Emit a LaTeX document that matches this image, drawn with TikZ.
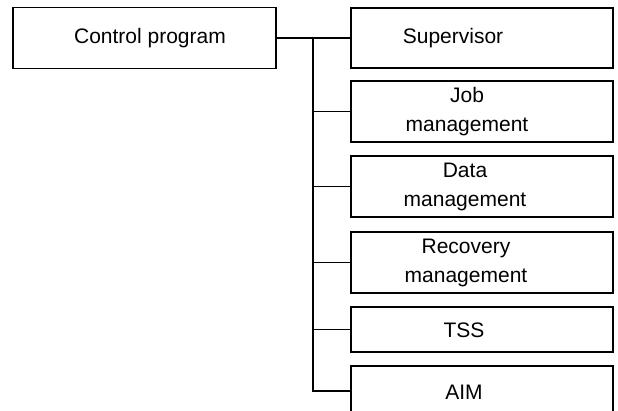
\documentclass[tikz,border=0pt]{standalone}
\usepackage{fontspec}
\setmainfont{Liberation Sans}
\begin{document}
\begin{tikzpicture}[x=1pt,y=-1pt,
  box/.style={draw, line width=1.1pt, rectangle, inner sep=0pt, minimum width=262pt},
  lbl/.style={font=\fontsize{21}{29}\selectfont, align=center, inner sep=0pt},
  wire/.style={line width=1.1pt}]
  \useasboundingbox (0,0) rectangle (618,410);
  \clip (0,0) rectangle (618,410);
  % root of the tree
  \node[box, minimum width=263pt, minimum height=61pt] (ctrl) at (144.5,38) {};
  \node[lbl] (ctrlT) at (150,38) {Control program};
  % components of the control program
  \node[box, minimum height=60pt] (sup)  at (482,38)    {};
  \node[box, minimum height=61pt] (job)  at (482,111.5) {};
  \node[box, minimum height=61pt] (data) at (482,186.5) {};
  \node[box, minimum height=61pt] (rec)  at (482,262.5) {};
  \node[box, minimum height=45pt] (tss)  at (482,329.5) {};
  \node[box, minimum height=50pt] (aim)  at (482,391)   {};
  \node[lbl] (supT)  at (453,38)  {Supervisor};
  \node[lbl] (jobT)  at (467,112) {Job\\management};
  \node[lbl] (dataT) at (465,187) {Data\\management};
  \node[lbl] (recT)  at (466,263) {Recovery\\management};
  \node[lbl] (tssT)  at (464,330) {TSS};
  \node[lbl] (aimT)  at (464,392) {AIM};
  % connecting bus
  \coordinate (bustop) at (313,38);
  \draw[wire] (ctrl.east) -- (sup.west);
  \draw[wire] (bustop) |- (aim.west);
  \foreach \b in {job,data,rec,tss}
    \draw[wire] (\b.west) -- (\b.west -| bustop);
\end{tikzpicture}
\end{document}
